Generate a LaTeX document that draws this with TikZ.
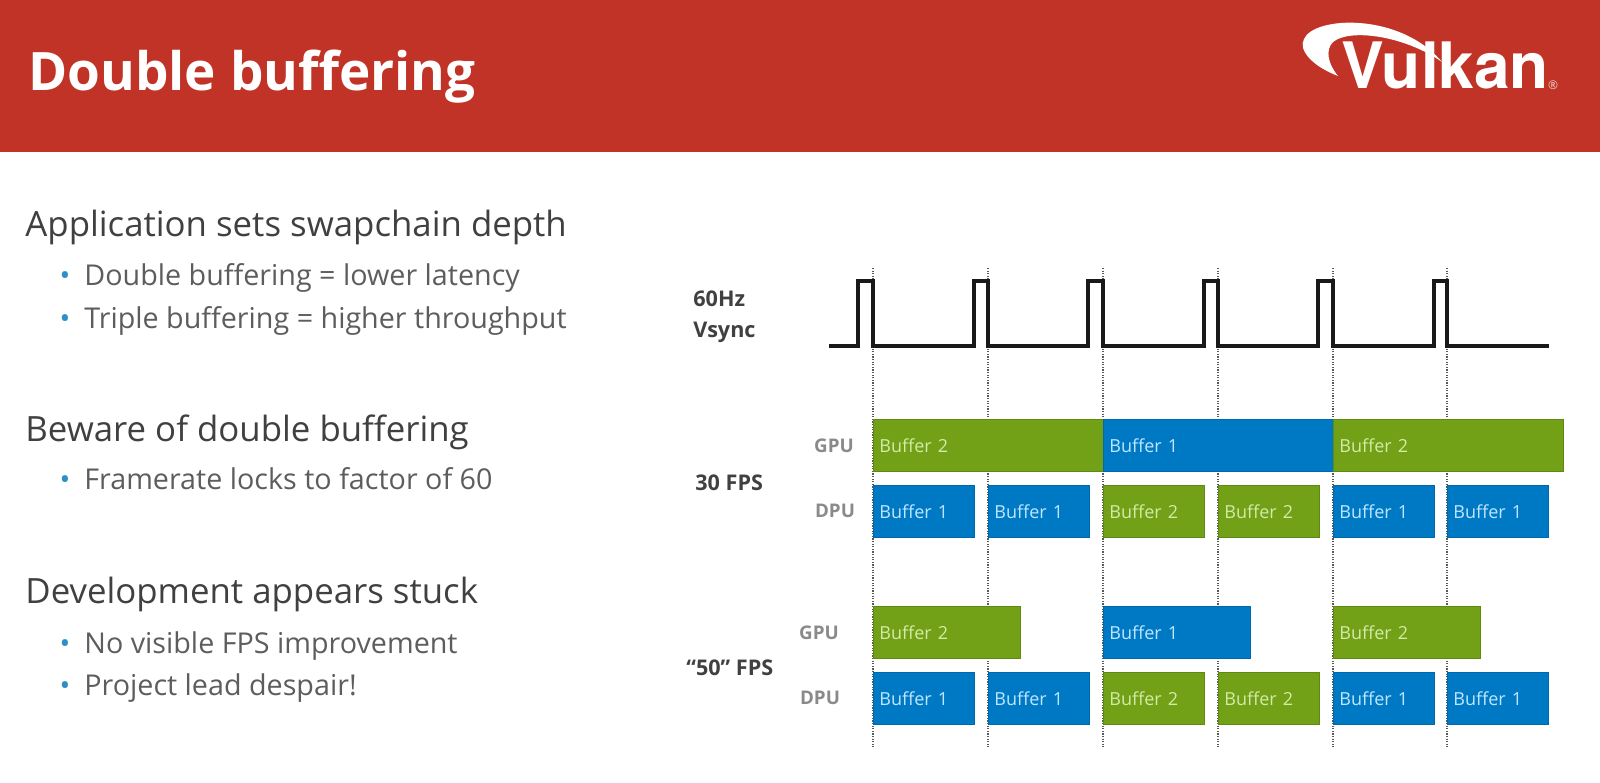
\documentclass[tikz,border=0pt]{standalone}
\usepackage{fontspec}
\setmainfont{Open Sans}
\newfontfamily\logofont{TeX Gyre Heros}
\usetikzlibrary{positioning}
\definecolor{HeadRed}{HTML}{C13327}
\definecolor{BodyText}{HTML}{404040}
\definecolor{RowGrey}{HTML}{8A8A8A}
\definecolor{BufGreen}{HTML}{72A016}
\definecolor{BufGreenEdge}{HTML}{5F8A12}
\definecolor{BufGreenText}{HTML}{D2EBA6}
\definecolor{BufBlue}{HTML}{0079C5}
\definecolor{BufBlueEdge}{HTML}{0068AC}
\definecolor{BufBlueText}{HTML}{BFE6FF}
\definecolor{BulletBlue}{HTML}{2E8FC4}
\tikzset{head/.style={anchor=base west,inner sep=0pt,text=BodyText,font=\fontsize{17.4}{20}\selectfont},
 item/.style={anchor=base west,inner sep=0pt,text=BodyText!85!white,font=\fontsize{14.35}{16}\selectfont},
 dot/.style={anchor=base,inner sep=0pt,text=BulletBlue,font=\fontsize{14.3}{16}\selectfont},
 rowlabel/.style={anchor=center,inner sep=0pt,text=RowGrey,font=\fontsize{9.4}{11}\selectfont\bfseries},
 fpslabel/.style={anchor=base west,inner sep=0pt,text=BodyText,font=\fontsize{10.8}{12}\selectfont\bfseries},
 bufbox/.style={anchor=north west,minimum height=26pt,inner ysep=0pt,inner xsep=3pt,text width=#1-6pt,font=\fontsize{9}{10}\selectfont},
 greenbuf/.style={bufbox=#1,fill=BufGreen,draw=BufGreenEdge,text=BufGreenText},
 bluebuf/.style={bufbox=#1,fill=BufBlue,draw=BufBlueEdge,text=BufBlueText},
 sync/.style={draw=black!65,line width=.6pt,dash pattern=on .6pt off .7pt},
 trace/.style={black!90,line width=1.6pt}}
\begin{document}
\begin{tikzpicture}[x=.5pt,y=-.5pt]
\useasboundingbox (0,0) rectangle (1600,782);
% header
\fill[HeadRed] (0,0) rectangle (1600,152);
\node[anchor=base west,inner sep=0pt,text=white,font=\fontsize{26.5}{30}\selectfont\bfseries] (title) at (28,90) {Double buffering};
\fill[white] (1338,76) .. controls (1312,66) and (1298,50) .. (1304,39) .. controls (1314,16) and (1400,12) .. (1442,62) .. controls (1405,36) and (1350,28) .. (1333,42) .. controls (1325,50) and (1328,64) .. (1338,76);
\node[anchor=base west,inner sep=0pt,text=white,font=\fontsize{32}{34}\logofont\bfseries] (logo) at (1341,88) {Vulkan};
\node[anchor=center,inner sep=0pt,text=white!80!HeadRed,font=\fontsize{6}{7}\selectfont] (regmark) at (1553,85) {®};
% left column
\node[head] (app) at (25,236) {Application sets swapchain depth};
\node[dot] (b1) at (65,285) {•};\node[item] (i1) at (84,285) {Double buffering = lower latency};
\node[dot] (b2) at (65,328) {•};\node[item] (i2) at (84,328) {Triple buffering = higher throughput};
\node[head] (bew) at (25,441) {Beware of double buffering};
\node[dot] (b3) at (65,489) {•};\node[item] (i3) at (84,489) {Framerate locks to factor of 60};
\node[head] (dev) at (25,603) {Development appears stuck};
\node[dot] (b4) at (65,653) {•};\node[item] (i4) at (84,653) {No visible FPS improvement};
\node[dot] (b5) at (65,695) {•};\node[item] (i5) at (84,695) {Project lead despair!};
% vsync
\node[fpslabel] (hz) at (693,306) {60Hz};\node[fpslabel] (vs) at (693,337) {Vsync};
\draw[sync] (873,268)--(873,747);\draw[sync] (988,268)--(988,747);\draw[sync] (1103,268)--(1103,747);
\draw[sync] (1218,268)--(1218,747);\draw[sync] (1333,268)--(1333,747);\draw[sync] (1447,268)--(1447,747);
\draw[trace] (829,346)--(858,346)--(858,281)--(873,281)--(873,346)--(974,346)--(974,281)--(988,281)--(988,346)
 --(1088,346)--(1088,281)--(1103,281)--(1103,346)--(1204,346)--(1204,281)--(1218,281)--(1218,346)
 --(1318,346)--(1318,281)--(1333,281)--(1333,346)--(1434,346)--(1434,281)--(1447,281)--(1447,346)--(1549,346);
% 30 fps
\node[fpslabel] (fpsA) at (695,490) {30 FPS};
\node[rowlabel] (gpuA) at (834,446) {GPU};\node[rowlabel] (dpuA) at (835,511) {DPU};
\node[greenbuf=115pt] (ga1) at (873,419) {Buffer 2};\node[bluebuf=115pt] (ga2) at (1103,419) {Buffer 1};\node[greenbuf=115pt] (ga3) at (1333,419) {Buffer 2};
\node[bluebuf=50.5pt] (da1) at (873,485) {Buffer 1};\node[bluebuf=50.5pt] (da2) at (988,485) {Buffer 1};
\node[greenbuf=50.5pt] (da3) at (1103,485) {Buffer 2};\node[greenbuf=50.5pt] (da4) at (1218,485) {Buffer 2};
\node[bluebuf=50.5pt] (da5) at (1333,485) {Buffer 1};\node[bluebuf=50.5pt] (da6) at (1447,485) {Buffer 1};
% 50 fps
\node[fpslabel] (fpsB) at (686,675) {“50” FPS};
\node[rowlabel] (gpuB) at (819,633) {GPU};\node[rowlabel] (dpuB) at (820,698) {DPU};
\node[greenbuf=73.5pt] (gb1) at (873,606) {Buffer 2};\node[bluebuf=73.5pt] (gb2) at (1103,606) {Buffer 1};\node[greenbuf=73.5pt] (gb3) at (1333,606) {Buffer 2};
\node[bluebuf=50.5pt] (db1) at (873,672) {Buffer 1};\node[bluebuf=50.5pt] (db2) at (988,672) {Buffer 1};
\node[greenbuf=50.5pt] (db3) at (1103,672) {Buffer 2};\node[greenbuf=50.5pt] (db4) at (1218,672) {Buffer 2};
\node[bluebuf=50.5pt] (db5) at (1333,672) {Buffer 1};\node[bluebuf=50.5pt] (db6) at (1447,672) {Buffer 1};
\end{tikzpicture}
\end{document}
